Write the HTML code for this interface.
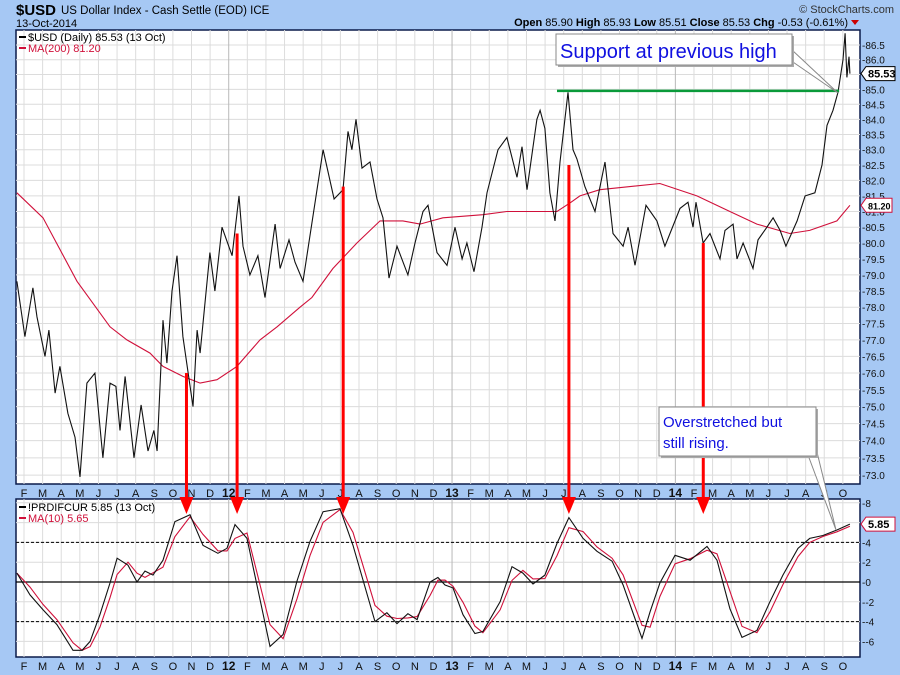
<!DOCTYPE html>
<html><head><meta charset="utf-8"><style>
body{margin:0;background:#a6c8f4;width:900px;height:675px;overflow:hidden;font-family:"Liberation Sans",sans-serif}
svg{display:block}
</style></head><body>
<svg id="c" width="900" height="675" xmlns="http://www.w3.org/2000/svg"></svg>
<script>
// ---- data ----
const priceT=[0.62,1.05,1.48,1.70,2.13,2.34,2.67,2.93,3.36,3.74,4.01,4.38,4.81,5.24,5.62,5.94,6.16,6.43,6.91,7.29,7.66,7.98,8.15,8.47,8.68,8.95,9.22,9.54,10.08,10.30,10.46,10.99,11.26,11.64,12.18,12.55,12.77,13.14,13.57,13.95,14.49,14.76,15.24,15.56,15.99,16.64,17.07,17.66,18.14,18.41,18.62,18.84,19.16,19.59,19.97,20.29,20.61,21.04,21.63,22.01,22.44,22.71,23.19,23.73,24.16,24.54,24.80,25.18,25.61,25.88,26.47,26.95,27.49,27.76,28.03,28.56,28.73,28.99,29.26,29.53,29.80,30.23,30.50,30.71,31.14,31.68,32.22,32.65,33.19,33.46,33.83,34.42,35.01,35.44,36.25,36.68,36.95,37.11,37.49,37.86,38.40,38.67,39.10,39.31,39.64,40.17,40.44,40.92,41.25,41.63,41.94,42.54,42.97,43.50,43.88,44.15,44.47,44.74,45.01,45.12,45.22,45.33,45.38];
const priceV=[78.8,77.1,78.6,77.7,76.5,77.3,75.4,76.2,74.8,74.1,72.95,75.7,76.0,73.5,75.7,75.6,74.3,75.9,73.5,75.05,73.7,74.3,73.7,77.6,76.3,78.5,79.6,77.1,75.0,77.3,76.6,79.7,78.5,80.5,79.6,81.5,79.9,79.0,79.6,78.3,80.6,79.2,80.1,79.4,78.8,81.3,83.0,81.4,81.7,83.6,83.0,84.0,82.4,82.6,81.4,80.8,78.9,79.9,79.0,80.0,81.0,81.2,79.7,79.3,80.5,79.5,80.0,79.1,80.5,81.6,83.0,83.4,82.1,83.1,81.7,84.0,84.3,83.7,81.6,80.7,82.6,84.9,83.0,82.7,81.8,81.0,82.6,80.3,79.9,80.5,79.3,81.2,80.7,79.9,81.1,81.3,80.5,81.3,80.0,80.3,79.5,80.4,80.6,79.5,80.0,79.2,80.1,80.5,80.8,80.4,79.9,80.7,81.5,81.6,82.5,83.8,84.3,84.9,86.0,86.9,85.4,86.1,85.53];
const maT=[0.62,2.02,3.85,5.62,6.53,7.77,8.47,9.54,10.46,11.37,12.44,13.68,14.6,15.83,16.47,17.6,18.89,20.13,21.36,22.28,23.51,25.66,26.95,28.56,29.64,30.4,30.87,31.94,33.56,35.17,37.16,38.93,40.38,42.15,43.22,44.68,45.38];
const maV=[81.6,80.8,78.8,77.4,77.0,76.6,76.2,75.9,75.7,75.8,76.2,77.0,77.4,78.0,78.3,79.2,80.0,80.7,80.7,80.6,80.8,80.9,81.0,81.0,81.0,81.3,81.5,81.7,81.8,81.9,81.5,81.0,80.6,80.3,80.4,80.7,81.2];
const oscT=[0.62,1.32,2.02,2.77,3.63,4.12,4.55,5.08,5.62,6.0,6.59,7.07,7.5,7.93,8.47,9.11,9.92,10.62,11.42,11.91,12.34,12.98,14.22,14.92,15.67,16.37,17.07,17.98,18.68,19.86,20.5,21.04,21.63,22.12,22.82,23.24,23.62,24.05,24.59,25.23,25.66,26.58,27.22,27.81,28.35,28.99,29.64,30.28,31.04,31.79,32.6,33.19,34.21,34.64,35.17,35.98,36.79,37.7,38.24,38.93,39.58,40.38,41.08,41.78,42.59,43.22,43.93,44.68,45.38];
const oscV=[0.9,-1.3,-2.8,-4.3,-6.9,-6.9,-6.0,-3.3,-0.1,2.4,1.7,0,1.1,0.7,2.2,6.1,6.8,3.7,2.9,3.4,5.8,4.4,-6.5,-5.3,0.1,4.1,7.1,7.4,3.7,-4.0,-3.1,-4.2,-3.2,-3.8,0,0.45,-0.3,-0.6,-3.3,-5.2,-5.0,-2.0,1.55,0.9,-0.2,0.7,3.9,6.5,4.4,3.1,2.1,-0.3,-5.7,-3.0,-0.1,2.7,2.2,3.6,2.2,-2.7,-5.6,-4.9,-2.0,0.7,3.4,4.4,4.7,5.25,5.85];
const priceTicks=[73,73.5,74,74.5,75,75.5,76,76.5,77,77.5,78,78.5,79,79.5,80,80.5,81,81.5,82,82.5,83,83.5,84,84.5,85,85.5,86,86.5];
const oscTicks=[8,6,4,2,0,-2,-4,-6];
const monthLetters=["J","F","M","A","M","J","J","A","S","O","N","D"];
const arrowT=[9.73,12.45,18.15,30.28,37.5];
const arrowFrom=[76.0,80.3,81.8,82.5,80.0];
const supportV=84.95, supportT0=29.64, supportT1=44.8;

// ---- scales ----
const X=t=>5.4+t*18.61;
const YP=p=>45+2535*(Math.log(86.5)-Math.log(p));
const YO=v=>582-9.9*v;
const L=16,R=860,T1=30,B1=484,T2=499,B2=657;
const svg=document.getElementById('c');
const NS='http://www.w3.org/2000/svg';
function mk(tag,a,txt){const e=document.createElementNS(NS,tag);for(const k in a)e.setAttribute(k,a[k]);if(txt!=null)e.textContent=txt;svg.appendChild(e);return e;}
function pts(ts,vs,f){return ts.map((t,i)=>X(t).toFixed(1)+','+f(vs[i]).toFixed(1)).join(' ');}
function interp(ts,vs,t){if(t<=ts[0])return vs[0];for(let i=1;i<ts.length;i++)if(t<=ts[i]){const r=(t-ts[i-1])/(ts[i]-ts[i-1]);return vs[i-1]+r*(vs[i]-vs[i-1]);}return vs[vs.length-1];}

let e=mk('rect',{x:L,y:T1,width:R-L,height:B1-T1,fill:'#fff',stroke:'#0a1a4a','stroke-width':1.5});

e=mk('rect',{x:L,y:T2,width:R-L,height:B2-T2,fill:'#fff',stroke:'#0a1a4a','stroke-width':1.5});

priceTicks.forEach(p=>{e=mk('line',{x1:L,x2:R,y1:YP(p),y2:YP(p),stroke:'#dcdcdc'});
});
oscTicks.forEach(v=>{e=mk('line',{x1:L,x2:R,y1:YO(v),y2:YO(v),stroke:'#dcdcdc'});
});
for(let i=1;i<=45;i++){const x=X(i);const yr=i%12==0;
[[T1,B1],[T2,B2]].forEach(([a,b])=>{e=mk('line',{x1:x,x2:x,y1:a,y2:b,stroke:yr?'#b8b8b8':'#dcdcdc'});
});
[[B1,B1+14],[B2,B2+14]].forEach(([a,b])=>{e=mk('text',{x:x,y:b-1,'text-anchor':'middle','font-size':yr?12:11,'font-weight':yr?'bold':'normal',fill:'#111'},yr?String(11+i/12):monthLetters[i%12]);
});}
[4,-4].forEach(v=>{e=mk('line',{x1:L,x2:R,y1:YO(v),y2:YO(v),stroke:'#000','stroke-dasharray':'3,2'});
});
e=mk('line',{x1:L,x2:R,y1:YO(0),y2:YO(0),stroke:'#000','stroke-width':1.2});

priceTicks.forEach(p=>{const y=YP(p);e=mk('text',{x:R+2,y:y+4,'font-size':10,fill:'#111'},'-'+p.toFixed(1));
});
oscTicks.forEach(v=>{e=mk('text',{x:R+2,y:YO(v)+4,'font-size':10,fill:'#111'},'-'+v);
});
e=mk('polyline',{points:pts(maT,maV,YP),fill:'none',stroke:'#d0103a','stroke-width':1.1});

e=mk('polyline',{points:pts(priceT,priceV,YP),fill:'none',stroke:'#111','stroke-width':1.1});

e=mk('line',{x1:X(supportT0),x2:X(supportT1),y1:YP(supportV),y2:YP(supportV),stroke:'#0a9a3a','stroke-width':2.5});

const maOscV=oscT.map(t=>interp(oscT,oscV,t-0.25));
e=mk('polyline',{points:pts(oscT,maOscV,YO),fill:'none',stroke:'#d0103a','stroke-width':1.1});

e=mk('polyline',{points:pts(oscT,oscV,YO),fill:'none',stroke:'#111','stroke-width':1.1});

arrowT.forEach((t,i)=>{const x=X(t);
e=mk('line',{x1:x,x2:x,y1:YP(arrowFrom[i]),y2:503,stroke:'#f00','stroke-width':3});

e=mk('polygon',{points:`${x-7},497 ${x+7},497 ${x},514`,fill:'#f00'});
});
e=mk('polygon',{points:'790,60 838,93 792,50',fill:'#fff',stroke:'#888'});

e=mk('rect',{x:558,y:36,width:236,height:31,fill:'#aaa'});

e=mk('rect',{x:556,y:34,width:236,height:31,fill:'#fff',stroke:'#888'});

e=mk('text',{x:560,y:58,'font-size':20,fill:'#1010e0'},'Support at previous high');

e=mk('polygon',{points:'808,455 836,530 816,448',fill:'#fff',stroke:'#888'});

e=mk('rect',{x:661,y:409,width:157,height:49,fill:'#aaa'});

e=mk('rect',{x:659,y:407,width:157,height:49,fill:'#fff',stroke:'#888'});

e=mk('text',{x:663,y:427,'font-size':15,fill:'#1010e0'},'Overstretched but');

e=mk('text',{x:663,y:448,'font-size':15,fill:'#1010e0'},'still rising.');

function badge(y,txt,name,col,fs,w){
let b=mk('polygon',{points:`${R+1},${y} ${R+6},${y-7} ${R+6+w},${y-7} ${R+6+w},${y+7} ${R+6},${y+7}`,fill:'#fff',stroke:col});

b=mk('text',{x:R+8,y:y+4,'font-size':fs,'font-weight':'bold',fill:'#000'},txt);
}
badge(YP(85.53),'85.53','last-price-badge','#000',11,29);
badge(YP(81.2),'81.20','ma200-badge','#d0103a',9,26);
badge(YO(5.85),'5.85','osc-last-badge','#d0103a',11,29);
function leg(x,y,col,txt,name){let a=mk('line',{x1:x,x2:x+7,y1:y-4,y2:y-4,stroke:col,'stroke-width':2});

a=mk('text',{x:x+9,y:y,'font-size':11,fill:col},txt);}
leg(19,41,'#000','$USD (Daily) 85.53 (13 Oct)','legend-usd');
leg(19,52,'#d0103a','MA(200) 81.20','legend-ma200');
leg(19,511,'#000','!PRDIFCUR 5.85 (13 Oct)','legend-prdifcur');
leg(19,522,'#d0103a','MA(10) 5.65','legend-ma10');
e=mk('text',{x:16,y:15,'font-size':15,'font-weight':'bold',fill:'#000'},'$USD');

e=mk('text',{x:61,y:14,'font-size':11.5,fill:'#000'},'US Dollar Index - Cash Settle (EOD)  ICE');

e=mk('text',{x:16,y:27,'font-size':11,fill:'#000'},'13-Oct-2014');

e=mk('text',{x:894,y:13,'font-size':11,fill:'#333','text-anchor':'end'},'© StockCharts.com');

e=mk('text',{x:848,y:26,'font-size':11,fill:'#000','text-anchor':'end'});
e.innerHTML='<tspan font-weight="bold">Open</tspan> 85.90  <tspan font-weight="bold">High</tspan> 85.93  <tspan font-weight="bold">Low</tspan> 85.51  <tspan font-weight="bold">Close</tspan> 85.53  <tspan font-weight="bold">Chg</tspan> -0.53 (-0.61%)';

e=mk('polygon',{points:'851,20 859,20 855,25',fill:'#c00'});

</script>
</body></html>
